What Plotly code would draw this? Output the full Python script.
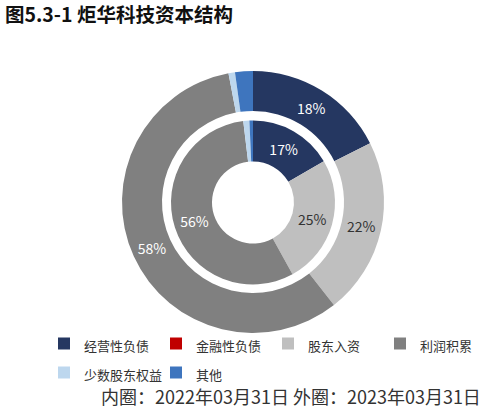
import plotly.graph_objects as go

# Структура капитала: внутреннее кольцо 2022-03-31, внешнее 2023-03-31
labels = ['经营性负债', '金融性负债', '股东入资', '利润积累', '少数股东权益', '其他']
inner_2022 = [16.6, 0.0, 25.4, 56.1, 1.2, 0.7]
outer_2023 = [17.6, 0.0, 21.8, 57.6, 0.8, 2.2]
colors = ['#253761', '#C00000', '#BFBFBF', '#808080', '#BDD7EE', '#3E75BE']
text_colors = ['white', 'white', '#333333', 'white', 'white', 'white']

W, H = 492, 409
CJK = 'Noto Sans CJK SC'

# высота строки легенды считается по размеру шрифта легенды,
# поэтому сам текст уменьшаем через span
legend_labels = ['<span style="font-size:13px">%s</span>' % s for s in labels]


def show_text(values):
    # маленькие сектора без подписи
    return ['%{percent:.0%}' if v >= 5 else '' for v in values]


def px_domain(x0, x1, y0, y1):
    return dict(x=[x0 / W, x1 / W], y=[1 - y1 / H, 1 - y0 / H])


def ring(values, hole, domain, name):
    return go.Pie(
        labels=legend_labels, values=values, sort=False, direction='clockwise', rotation=0,
        hole=hole, domain=domain,
        marker=dict(colors=colors, line=dict(width=0)),
        texttemplate=show_text(values), textposition='inside',
        insidetextorientation='horizontal',
        textfont=dict(family=CJK, size=14, color=text_colors),
        name=name,
    )


fig = go.Figure([
    ring(outer_2023, 91 / 131, px_domain(122, 384, 71, 333), '2023-03-31'),
    ring(inner_2022, 0.5, px_domain(171, 335, 120.5, 284.5), '2022-03-31'),
])

fig.update_layout(
    width=W, height=H,
    margin=dict(l=0, r=0, t=0, b=0),
    paper_bgcolor='white',
    font=dict(family=CJK, color='#333333'),
    title=dict(text='<b>图5.3-1 炬华科技资本结构</b>', x=5 / W, xanchor='left',
               y=1 - 15.5 / H, yanchor='middle',
               font=dict(family=CJK, size=19.5, color='#111111')),
    legend=dict(orientation='h', x=57 / W, xanchor='left', y=1 - 324 / H,
                yanchor='top', font=dict(family=CJK, size=20, color='#333333'),
                itemwidth=30, entrywidth=67, entrywidthmode='pixels',
                bgcolor='rgba(0,0,0,0)'),
    annotations=[dict(text='内圈：2022年03月31日 外圈：2023年03月31日',
                      x=483 / W, y=1 - 396 / H, xref='paper', yref='paper',
                      xanchor='right', yanchor='middle', showarrow=False,
                      font=dict(family=CJK, size=18, color='#333333'))],
)

fig.write_html("out.html", config={'displayModeBar': False},
               post_script="document.body.style.margin='0';")
